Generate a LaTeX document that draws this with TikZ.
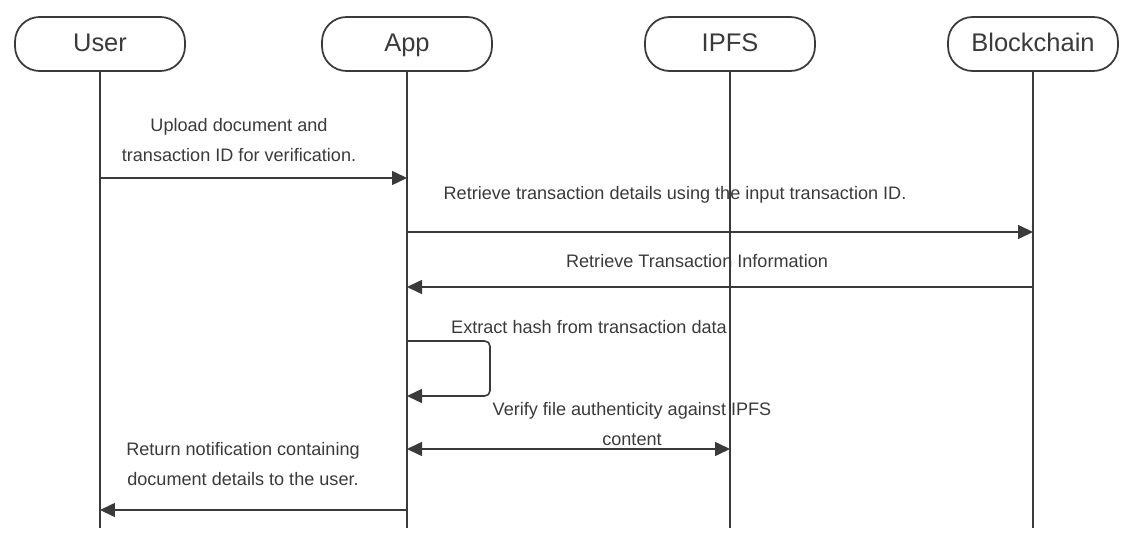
\documentclass[tikz,border=0pt]{standalone}
\usepackage{fontspec}
\setmainfont{Liberation Sans}
\usetikzlibrary{arrows.meta}
\usetikzlibrary{positioning}
\definecolor{ink}{HTML}{3A3A3A}

\begin{document}
\begin{tikzpicture}
        [x=0.02cm, y=-0.02cm,
         actor/.style={draw=ink, line width=1pt, rounded corners=14pt, minimum width=3.4cm,
                       minimum height=1.08cm, text height=1.9ex, text depth=0.3ex,
                       text=ink, font=\fontsize{14.5}{17}\selectfont},
         life/.style={draw=ink, line width=0.9pt},
         msg/.style={draw=ink, line width=0.9pt, -{Triangle[length=0.3cm, width=0.28cm]}},
         lbl/.style={align=center, text=ink, inner sep=0pt, font=\fontsize{10.3}{17}\selectfont}]
        \useasboundingbox (0,0) rectangle (1135,543);
        % participants
        \node[actor] (user) at (100,44) {User};
        \node[actor] (app) at (407,44) {App};
        \node[actor] (ipfs) at (730,44) {IPFS};
        \node[actor] (chain) at (1033,44) {Blockchain};
        \coordinate (bottom) at (0,528);
        \foreach \p in {user, app, ipfs, chain}
            \draw[life] (\p.south) -- (\p |- bottom);
        % messages
        \coordinate (m1) at (0,178);
        \coordinate (m2) at (0,232);
        \coordinate (m3) at (0,287);
        \coordinate (m4) at (490,341);
        \coordinate (m4b) at (490,396);
        \coordinate (m5) at (0,449);
        \coordinate (m6) at (0,510);
        \node[lbl] (l1) at (239,140) {Upload document and\\transaction ID for verification.};
        \draw[msg] (user |- m1) -- (app |- m1);
        \node[lbl] (l2) at (675,195) {Retrieve transaction details using the input transaction ID.};
        \draw[msg] (app |- m2) -- (chain |- m2);
        \node[lbl] (l3) at (697,261) {Retrieve Transaction Information};
        \draw[msg] (chain |- m3) -- (app |- m3);
        \node[lbl] (l4) at (589,327) {Extract hash from transaction data};
        \draw[msg, rounded corners=3pt] (app |- m4) -- (m4) -- (m4b) -- (app |- m4b);
        \node[lbl] (l5) at (632,424) {Verify file authenticity against IPFS\\content};
        \draw[msg, {Triangle[length=0.3cm, width=0.28cm]}-{Triangle[length=0.3cm, width=0.28cm]}] (app |- m5) -- (ipfs |- m5);
        \node[lbl] (l6) at (243,464) {Return notification containing\\document details to the user.};
        \draw[msg] (app |- m6) -- (user |- m6);
\end{tikzpicture}
\end{document}
